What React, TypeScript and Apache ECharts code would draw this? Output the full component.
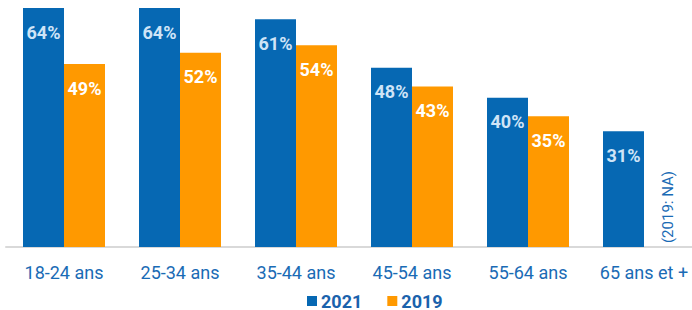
import React, { useEffect, useRef } from "react";
import * as echarts from "echarts";

const categories = ["18-24 ans", "25-34 ans", "35-44 ans", "45-54 ans", "55-64 ans", "65 ans et +"];
const values2021 = [64, 64, 61, 48, 40, 31];
const values2019: (number | null)[] = [49, 52, 54, 43, 35, null];
const seriesNames = ["2021", "2019"];
const noteText = "(2019: NA)";

const BLUE = "#0668b3";
const ORANGE = "#ff9900";
const TEXT_BLUE = "#1a6bb5";

export default function App() {
  const ref = useRef<HTMLDivElement>(null);
  useEffect(() => {
    if (!ref.current) return;
    const chart = echarts.init(ref.current, null, { renderer: "svg" });
    chart.setOption({
      animation: false,
      textStyle: { fontFamily: "Roboto" },
      grid: { left: 6, width: 696, top: 8, bottom: 63, containLabel: false },
      legend: {
        left: 302,
        top: 287,
        itemWidth: 10,
        itemHeight: 10,
        itemGap: 25,
        icon: "rect",
        textStyle: { fontSize: 18, fontWeight: "bold", color: "#1a62ac", fontFamily: "Roboto", padding: [0, 0, 0, -1] },
        data: seriesNames,
      },
      xAxis: {
        type: "category",
        data: categories,
        axisLine: { show: true, lineStyle: { color: "#d9d9d9", width: 2 } },
        axisTick: { show: false },
        axisLabel: { interval: 0, fontSize: 18, color: TEXT_BLUE, margin: 16, fontFamily: "Roboto" },
      },
      yAxis: {
        type: "value",
        min: 0,
        max: 64,
        show: false,
        splitLine: { show: false },
      },
      series: [
        {
          name: seriesNames[0],
          type: "bar",
          data: values2021,
          barWidth: 41,
          barGap: "0%",
          itemStyle: { color: BLUE },
          label: {
            show: true,
            position: "insideTop",
            distance: 15,
            formatter: "{c}%",
            fontSize: 18,
            fontWeight: "bold",
            color: "#cfe4f7",
            fontFamily: "Roboto",
          },
        },
        {
          name: seriesNames[1],
          type: "bar",
          data: values2019,
          barWidth: 41,
          barGap: "0%",
          itemStyle: { color: ORANGE },
          label: {
            show: true,
            position: "insideTop",
            distance: 15,
            formatter: "{c}%",
            fontSize: 18,
            fontWeight: "bold",
            color: "#ffffff",
            fontFamily: "Roboto",
          },
        },
      ],
      graphic: [
        {
          type: "text",
          x: 668,
          y: 207,
          rotation: Math.PI / 2,
          style: {
            text: noteText,
            fontSize: 15,
            fill: TEXT_BLUE,
            fontFamily: "Roboto",
            align: "center",
            verticalAlign: "middle",
          },
        },
      ],
    });
    return () => chart.dispose();
  }, []);
  return (
    <div style={{ width: 692, height: 310, position: "absolute", left: 0, top: 0, overflow: "hidden" }}>
      <div ref={ref} style={{ width: 710, height: 310 }} />
    </div>
  );
}
